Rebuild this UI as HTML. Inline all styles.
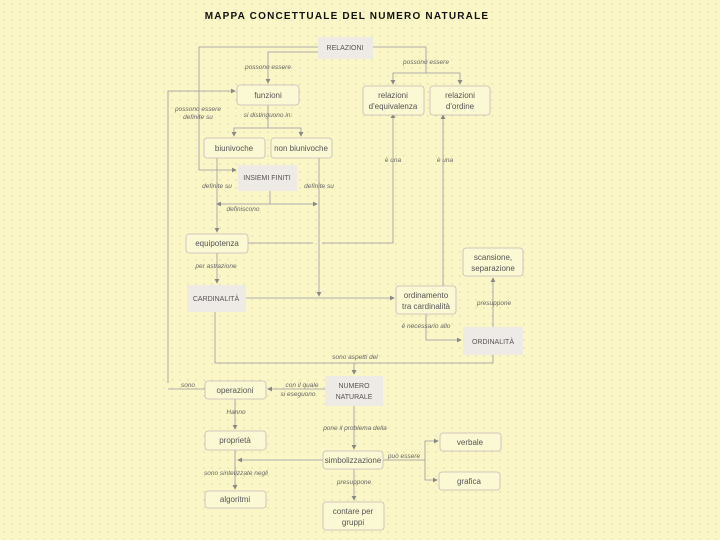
<!DOCTYPE html>
<html><head><meta charset="utf-8"><style>
body{margin:0;width:720px;height:540px;overflow:hidden;background:#faf6c6;}
svg{display:block}
text{font-family:"Liberation Sans",sans-serif;font-size:8px;fill:#555;}
.l{font-style:italic;font-size:6.5px;fill:#666;}
</style></head><body>
<svg width="720" height="540" viewBox="0 0 720 540">
<defs>
<pattern id="d" width="8" height="8" patternUnits="userSpaceOnUse"><circle cx="4" cy="4" r="0.6" fill="#c9c49a"/></pattern>
<marker id="a" markerWidth="6" markerHeight="6" refX="5" refY="3" orient="auto"><path d="M0,0L6,3L0,6z" fill="#888"/></marker>
</defs>
<rect width="720" height="540" fill="url(#d)"/>
<text x="347" y="19" text-anchor="middle" style="font-size:10px;font-weight:bold;fill:#111;letter-spacing:1.2px">MAPPA CONCETTUALE DEL NUMERO NATURALE</text>
<g fill="none" stroke="#9a98a8" stroke-width="0.8">
<path d="M318,47H199V170H236" marker-end="url(#a)"/>
<path d="M318,52H268V83" marker-end="url(#a)"/>
<path d="M373,47H426V73H393V84" marker-end="url(#a)"/>
<path d="M426,73H460V84" marker-end="url(#a)"/>
<path d="M268,105V128H234V136" marker-end="url(#a)"/>
<path d="M268,128H301V136" marker-end="url(#a)"/>
<path d="M168,383V91H199" />
<path d="M199,91H235" marker-end="url(#a)"/>
<path d="M217,158V232" marker-end="url(#a)"/>
<path d="M319,158V296" marker-end="url(#a)"/>
<path d="M270,191V204H217" marker-end="url(#a)"/>
<path d="M270,204H317" marker-end="url(#a)"/>
<path d="M248,243H313M322,243H393V114" marker-end="url(#a)"/>
<path d="M217,253V283" marker-end="url(#a)"/>
<path d="M246,298H394" marker-end="url(#a)"/>
<path d="M443,286V115" marker-end="url(#a)"/>
<path d="M426,314V340H461" marker-end="url(#a)"/>
<path d="M493,327V278" marker-end="url(#a)"/>
<path d="M215,312V363H493V355"/>
<path d="M354,363V374" marker-end="url(#a)"/>
<path d="M325,389H268" marker-end="url(#a)"/>
<path d="M205,389H168"/>
<path d="M235,399V429" marker-end="url(#a)"/>
<path d="M354,406V449" marker-end="url(#a)"/>
<path d="M323,460H238" marker-end="url(#a)"/>
<path d="M235,450V489" marker-end="url(#a)"/>
<path d="M383,460H425V441H438" marker-end="url(#a)"/>
<path d="M425,460V480H437" marker-end="url(#a)"/>
<path d="M354,469V500" marker-end="url(#a)"/>
</g>
<g fill="#fbf8d4" stroke="#c8b8b8" stroke-width="0.8">
<rect x="237" y="85" width="62" height="20" rx="3"/>
<rect x="363" y="86" width="61" height="29" rx="3"/>
<rect x="430" y="86" width="60" height="29" rx="3"/>
<rect x="204" y="138" width="61" height="20" rx="3"/>
<rect x="271" y="138" width="61" height="20" rx="3"/>
<rect x="186" y="234" width="62" height="19" rx="3"/>
<rect x="396" y="286" width="60" height="28" rx="3"/>
<rect x="463" y="248" width="60" height="28" rx="3"/>
<rect x="205" y="381" width="61" height="18" rx="3"/>
<rect x="205" y="431" width="61" height="19" rx="3"/>
<rect x="323" y="451" width="60" height="18" rx="3"/>
<rect x="440" y="433" width="61" height="18" rx="3"/>
<rect x="439" y="472" width="61" height="18" rx="3"/>
<rect x="205" y="491" width="61" height="17" rx="3"/>
<rect x="323" y="502" width="61" height="28" rx="3"/>
</g>
<g fill="#eeeae6" stroke="none">
<rect x="318" y="37" width="55" height="22"/>
<rect x="238" y="165" width="59" height="26"/>
<rect x="187" y="285" width="59" height="27"/>
<rect x="463" y="327" width="60" height="28"/>
<rect x="325" y="376" width="58" height="30"/>
</g>
<g text-anchor="middle">
<text x="345" y="50" style="font-size:7px">RELAZIONI</text>
<text x="268" y="98">funzioni</text>
<text x="393" y="98">relazioni</text><text x="393" y="109">d'equivalenza</text>
<text x="460" y="98">relazioni</text><text x="460" y="109">d'ordine</text>
<text x="234" y="151">biunivoche</text>
<text x="301" y="151">non biunivoche</text>
<text x="267" y="180" style="font-size:7px">INSIEMI FINITI</text>
<text x="217" y="246">equipotenza</text>
<text x="216" y="301" style="font-size:7px">CARDINALITÀ</text>
<text x="426" y="298">ordinamento</text><text x="426" y="309">tra cardinalità</text>
<text x="493" y="260">scansione,</text><text x="493" y="271">separazione</text>
<text x="493" y="344" style="font-size:7px">ORDINALITÀ</text>
<text x="354" y="388" style="font-size:7px">NUMERO</text><text x="354" y="399" style="font-size:7px">NATURALE</text>
<text x="235" y="393">operazioni</text>
<text x="235" y="443">proprietà</text>
<text x="353" y="463">simbolizzazione</text>
<text x="470" y="445">verbale</text>
<text x="469" y="484">grafica</text>
<text x="235" y="502">algoritmi</text>
<text x="353" y="514">contare per</text><text x="353" y="525">gruppi</text>
</g>
<g class="l" text-anchor="middle">
<text class="l" x="268" y="69">possono essere</text>
<text class="l" x="426" y="64">possono essere</text>
<text class="l" x="198" y="111">possono essere</text><text class="l" x="198" y="119">definite su</text>
<text class="l" x="268" y="117">si distinguono in:</text>
<text class="l" x="393" y="162">è una</text>
<text class="l" x="445" y="162">è una</text>
<text class="l" x="217" y="188">definite su</text>
<text class="l" x="319" y="188">definite su</text>
<text class="l" x="243" y="211">definiscono</text>
<text class="l" x="216" y="268">per astrazione</text>
<text class="l" x="494" y="305">presuppone</text>
<text class="l" x="426" y="328">è necessario allo</text>
<text class="l" x="355" y="359">sono aspetti del</text>
<text class="l" x="188" y="387">sono</text>
<text class="l" x="302" y="387">con il quale</text><text class="l" x="298" y="396">si eseguono</text>
<text class="l" x="236" y="414">Hanno</text>
<text class="l" x="355" y="430">pone il problema della</text>
<text class="l" x="236" y="475">sono sintetizzate negli</text>
<text class="l" x="404" y="458">può essere</text>
<text class="l" x="354" y="484">presuppone</text>
</g>
</svg>
</body></html>
